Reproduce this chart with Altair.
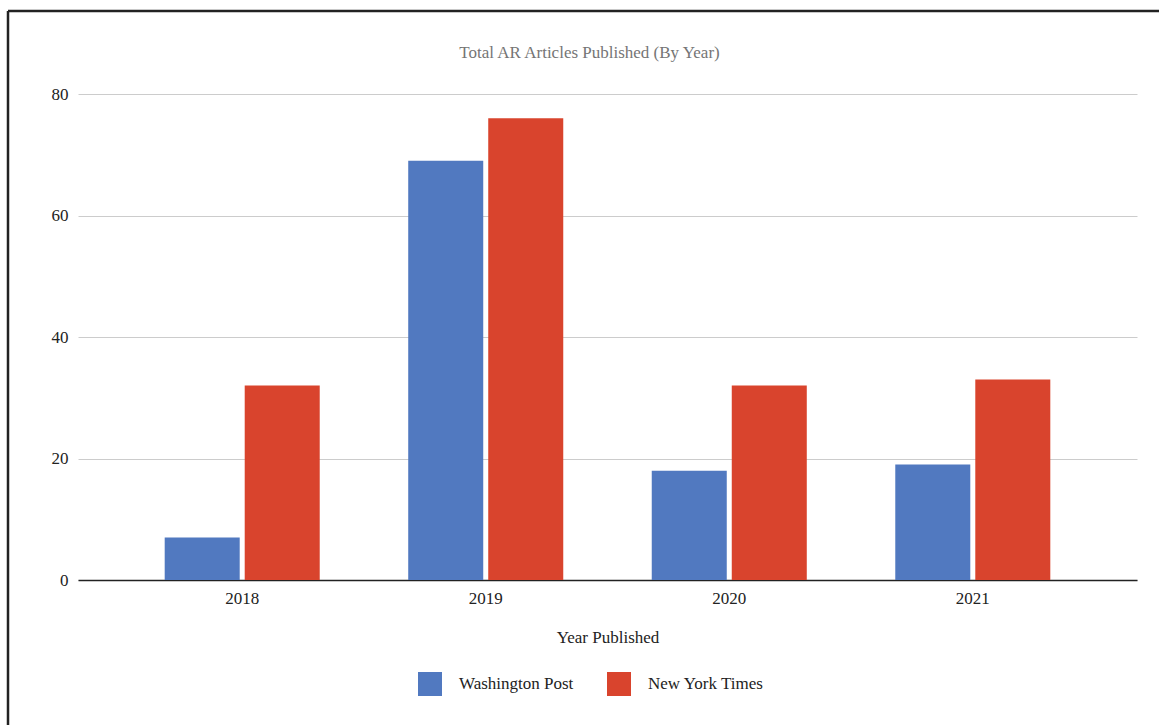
import altair as alt
import pandas as pd

years = ["2018", "2019", "2020", "2021"]
wapo = [7, 69, 18, 19]
nyt = [32, 76, 32, 33]
series = ["Washington Post", "New York Times"]
colors = ["#5179c0", "#d9442d"]

rows = []
for i, y in enumerate(years):
    rows.append({"Year": y, "Source": series[0], "Articles": wapo[i]})
    rows.append({"Year": y, "Source": series[1], "Articles": nyt[i]})
df = pd.DataFrame(rows)

FONT = "Liberation Serif"

bars = alt.Chart(df).mark_bar().encode(
    x=alt.X("Year:N", sort=years,
            scale=alt.Scale(paddingInner=0.3634, paddingOuter=0.356),
            axis=alt.Axis(title="Year Published", labelAngle=0, labelPadding=10,
                          tickSize=0, domainColor="#222222", domainWidth=1.5,
                          titlePadding=23, titleFontWeight="normal")),
    xOffset=alt.XOffset("Source:N", sort=series,
                        scale=alt.Scale(paddingInner=0.0625, paddingOuter=0)),
    y=alt.Y("Articles:Q", scale=alt.Scale(domain=[0, 80]),
            axis=alt.Axis(title=None, values=[0, 20, 40, 60, 80], domain=False,
                          tickSize=0, labelPadding=10, gridColor="#cccccc")),
    color=alt.Color("Source:N", sort=series,
                    scale=alt.Scale(domain=series, range=colors),
                    legend=alt.Legend(title=None, orient="none", direction="horizontal",
                                      legendX=340, legendY=578, symbolType="square",
                                      symbolSize=576, symbolStrokeWidth=0,
                                      labelOffset=17, columnPadding=33,
                                      labelFontSize=17, labelFont=FONT,
                                      labelColor="#222222")),
)

frame_top = alt.Chart(alt.Data(values=[{}])).mark_rule(color="#222222", strokeWidth=2.5).encode(
    x=alt.value(-70), x2=alt.value(1085), y=alt.value(-83))
frame_left = alt.Chart(alt.Data(values=[{}])).mark_rule(color="#222222", strokeWidth=2.5).encode(
    x=alt.value(-70), y=alt.value(-83), y2=alt.value(640))

chart = alt.layer(bars, frame_top, frame_left).properties(
    width=1059, height=486,
    title=alt.TitleParams("Total AR Articles Published (By Year)", fontSize=17,
                          font=FONT, color="#757575", fontWeight="normal",
                          anchor="middle", dx=-18, dy=84, offset=32),
    autosize=alt.AutoSizeParams(type="none"),
    padding={"left": 78, "top": 94, "right": 22, "bottom": 145},
).configure_view(stroke=None).configure_axis(
    labelFont=FONT, labelFontSize=17, labelColor="#222222",
    titleFont=FONT, titleFontSize=17, titleColor="#222222",
)

chart.save("out.html", embed_options={"renderer": "svg", "actions": False})
